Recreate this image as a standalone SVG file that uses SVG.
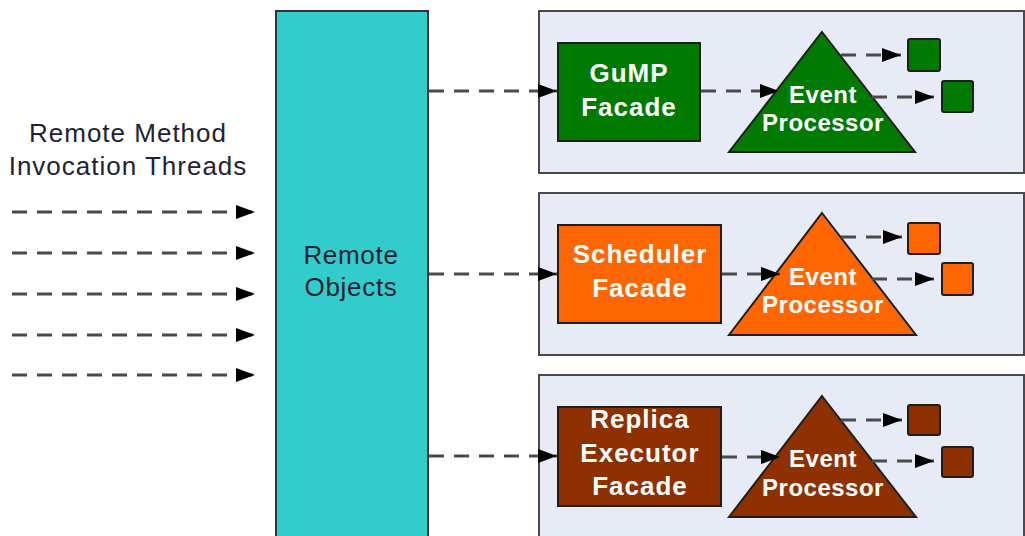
<svg xmlns="http://www.w3.org/2000/svg" width="1025" height="536" viewBox="0 0 1025 536">
  <style>
    .panel { fill: #e6ebf6; stroke: #4a4a4a; stroke-width: 2; }
    .box { stroke: #1e1e1e; stroke-width: 2; }
    .sq { stroke: #1e1e1e; stroke-width: 2; }
    .green { fill: #007a00; }
    .orange { fill: #ff6600; }
    .brown { fill: #8f3000; }
    .link { fill: none; stroke: #4a4a4a; stroke-width: 3; stroke-dasharray: 15 10; }
    .lbl { font-family: "Liberation Sans", Arial, sans-serif; font-size: 26px; fill: #222233; text-anchor: middle; letter-spacing: 1px; }
    .wl { font-family: "Liberation Sans", Arial, sans-serif; font-weight: bold; font-size: 26px; fill: #ffffff; text-anchor: middle; letter-spacing: 1px; }
    .ep { font-family: "Liberation Sans", Arial, sans-serif; font-weight: bold; font-size: 24px; fill: #ffffff; text-anchor: middle; letter-spacing: 0.5px; }
  </style>
  <defs>
    <marker id="head" markerUnits="userSpaceOnUse" markerWidth="20" markerHeight="16" viewBox="0 0 20 16" refX="19" refY="8" orient="auto">
      <path d="M0,1 L19,8 L0,15 Z" fill="#000"/>
    </marker>
  </defs>
  <rect width="1025" height="536" fill="#ffffff"/>

  <!-- containers for each facade -->
  <g id="panel-gump"><rect class="panel" x="539" y="11" width="485" height="162"/></g>
  <g id="panel-scheduler"><rect class="panel" x="539" y="193" width="485" height="162"/></g>
  <g id="panel-replica"><rect class="panel" x="539" y="375" width="485" height="180"/></g>

  <!-- incoming threads label -->
  <g id="rmi-label">
    <text class="lbl" x="128" y="142">Remote Method</text>
    <text class="lbl" x="128" y="175">Invocation Threads</text>
  </g>

  <!-- remote objects column -->
  <g id="remote-objects">
    <rect x="276" y="11" width="152" height="540" fill="#33cccc" stroke="#333" stroke-width="2"/>
    <text class="lbl" x="351" y="264" style="letter-spacing:0.7px">Remote</text>
    <text class="lbl" x="351" y="296" style="letter-spacing:0.7px">Objects</text>
  </g>

  <!-- facades -->
  <g id="gump-facade">
    <rect class="box green" x="558" y="43" width="142" height="98"/>
    <text class="wl" x="629" y="82">GuMP</text>
    <text class="wl" x="629" y="116">Facade</text>
  </g>
  <g id="scheduler-facade">
    <rect class="box orange" x="558" y="225" width="163" height="98"/>
    <text class="wl" x="640" y="263">Scheduler</text>
    <text class="wl" x="640" y="297">Facade</text>
  </g>
  <g id="replica-facade">
    <rect class="box brown" x="558" y="407" width="163" height="99"/>
    <text class="wl" x="640" y="428">Replica</text>
    <text class="wl" x="640" y="462">Executor</text>
    <text class="wl" x="640" y="495">Facade</text>
  </g>

  <!-- event processors -->
  <g id="gump-processor">
    <path class="box green" d="M822,32 L915,152 L729,152 Z"/>
    <text class="ep" x="823" y="103">Event</text>
    <text class="ep" x="823" y="131">Processor</text>
  </g>
  <g id="scheduler-processor">
    <path class="box orange" d="M822,213 L916,335 L729,335 Z"/>
    <text class="ep" x="823" y="285">Event</text>
    <text class="ep" x="823" y="313">Processor</text>
  </g>
  <g id="replica-processor">
    <path class="box brown" d="M822,396 L916,517 L729,517 Z"/>
    <text class="ep" x="823" y="467">Event</text>
    <text class="ep" x="823" y="496">Processor</text>
  </g>

  <!-- event sinks -->
  <g id="gump-sinks">
    <rect class="sq green" x="908" y="39" width="32" height="32" rx="2"/>
    <rect class="sq green" x="942" y="81" width="31" height="31" rx="2"/>
  </g>
  <g id="scheduler-sinks">
    <rect class="sq orange" x="908" y="223" width="32" height="31" rx="2"/>
    <rect class="sq orange" x="942" y="263" width="31" height="32" rx="2"/>
  </g>
  <g id="replica-sinks">
    <rect class="sq brown" x="908" y="405" width="32" height="30" rx="2"/>
    <rect class="sq brown" x="942" y="447" width="31" height="30" rx="2"/>
  </g>

  <!-- connectors -->
  <g id="connectors" marker-end="url(#head)">
    <path class="link" d="M12,212 H255" marker-end="url(#head)"/>
    <path class="link" d="M12,253 H255" marker-end="url(#head)"/>
    <path class="link" d="M12,294 H255" marker-end="url(#head)"/>
    <path class="link" d="M12,335 H255" marker-end="url(#head)"/>
    <path class="link" d="M12,375 H255" marker-end="url(#head)"/>

    <path class="link" d="M429,91 H557" marker-end="url(#head)"/>
    <path class="link" d="M429,274 H557" marker-end="url(#head)"/>
    <path class="link" d="M429,456 H557" marker-end="url(#head)"/>

    <path class="link" d="M701,91 H779" marker-end="url(#head)"/>
    <path class="link" d="M722,274 H780" marker-end="url(#head)"/>
    <path class="link" d="M722,457 H780" marker-end="url(#head)"/>

    <path class="link" d="M841,55 H901" marker-end="url(#head)"/>
    <path class="link" d="M872,97 H934" marker-end="url(#head)"/>
    <path class="link" d="M841,237 H902" marker-end="url(#head)"/>
    <path class="link" d="M872,279 H934" marker-end="url(#head)"/>
    <path class="link" d="M841,420 H902" marker-end="url(#head)"/>
    <path class="link" d="M872,461 H934" marker-end="url(#head)"/>
  </g>
</svg>
